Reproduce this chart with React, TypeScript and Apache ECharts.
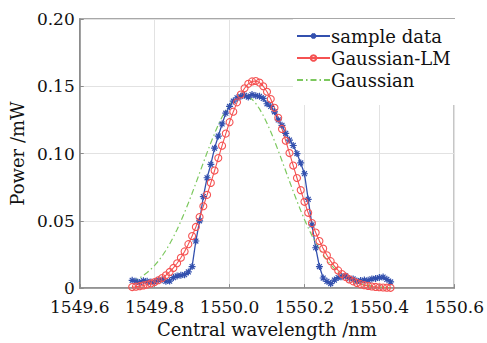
import React, { useEffect, useRef } from "react";
import * as echarts from "echarts";

// wavelength grid (nm), 1549.74 .. 1550.43 step 0.01
const wavelengths: number[] = [
  1549.74, 1549.75, 1549.76, 1549.77, 1549.78, 1549.79, 1549.80, 1549.81, 1549.82, 1549.83,
  1549.84, 1549.85, 1549.86, 1549.87, 1549.88, 1549.89, 1549.90, 1549.91, 1549.92, 1549.93,
  1549.94, 1549.95, 1549.96, 1549.97, 1549.98, 1549.99, 1550.00, 1550.01, 1550.02, 1550.03,
  1550.04, 1550.05, 1550.06, 1550.07, 1550.08, 1550.09, 1550.10, 1550.11, 1550.12, 1550.13,
  1550.14, 1550.15, 1550.16, 1550.17, 1550.18, 1550.19, 1550.20, 1550.21, 1550.22, 1550.23,
  1550.24, 1550.25, 1550.26, 1550.27, 1550.28, 1550.29, 1550.30, 1550.31, 1550.32, 1550.33,
  1550.34, 1550.35, 1550.36, 1550.37, 1550.38, 1550.39, 1550.40, 1550.41, 1550.42, 1550.43,
];

const sampleData: number[] = [
  0.0058, 0.0050, 0.0042, 0.0055, 0.0050, 0.0045, 0.0046, 0.0060, 0.0062, 0.0050,
  0.0052, 0.0078, 0.0090, 0.0095, 0.0100, 0.0120, 0.0160, 0.0350, 0.0500, 0.0680,
  0.0820, 0.0920, 0.1040, 0.1130, 0.1220, 0.1300, 0.1350, 0.1390, 0.1414, 0.1425,
  0.1433, 0.1420, 0.1438, 0.1430, 0.1425, 0.1410, 0.1370, 0.1350, 0.1310, 0.1250,
  0.1210, 0.1150, 0.1100, 0.1060, 0.1000, 0.0930, 0.0850, 0.0660, 0.0470, 0.0300,
  0.0160, 0.0075, 0.0050, 0.0034, 0.0060, 0.0078, 0.0085, 0.0090, 0.0072, 0.0068,
  0.0052, 0.0056, 0.0060, 0.0058, 0.0068, 0.0072, 0.0078, 0.0082, 0.0065, 0.0046,
];

const gaussianLM: number[] = [
  0.00077, 0.00106, 0.00145, 0.00196, 0.00261, 0.00345, 0.00452, 0.00585, 0.00751, 0.00955,
  0.01201, 0.01497, 0.01846, 0.02255, 0.02727, 0.03266, 0.03872, 0.04546, 0.05283, 0.06081,
  0.06930, 0.07820, 0.08737, 0.09665, 0.10587, 0.11483, 0.12332, 0.13112, 0.13804, 0.14391,
  0.14854, 0.15181, 0.15363, 0.15393, 0.15272, 0.15002, 0.14592, 0.14053, 0.13401, 0.12653,
  0.11829, 0.10950, 0.10037, 0.09108, 0.08185, 0.07282, 0.06415, 0.05596, 0.04833, 0.04134,
  0.03500, 0.02934, 0.02436, 0.02002, 0.01630, 0.01314, 0.01048, 0.00828, 0.00648, 0.00502,
  0.00385, 0.00292, 0.00220, 0.00164, 0.00121, 0.00088, 0.00064, 0.00045, 0.00032, 0.00023,
];

const gaussian: number[] = [
  0.00494, 0.00617, 0.00766, 0.00944, 0.01154, 0.01400, 0.01685, 0.02012, 0.02385, 0.02806,
  0.03275, 0.03793, 0.04359, 0.04973, 0.05628, 0.06321, 0.07045, 0.07792, 0.08553, 0.09315,
  0.10067, 0.10797, 0.11491, 0.12137, 0.12720, 0.13228, 0.13653, 0.13982, 0.14210, 0.14330,
  0.14341, 0.14242, 0.14036, 0.13726, 0.13320, 0.12827, 0.12258, 0.11624, 0.10939, 0.10216,
  0.09467, 0.08705, 0.07944, 0.07193, 0.06464, 0.05764, 0.05100, 0.04478, 0.03902, 0.03374,
  0.02895, 0.02465, 0.02083, 0.01747, 0.01453, 0.01200, 0.00983, 0.00799, 0.00645, 0.00516,
  0.00410, 0.00323, 0.00253, 0.00197, 0.00151, 0.00116, 0.00088, 0.00066, 0.00049, 0.00037,
];

const seriesNames: string[] = ["sample data", "Gaussian-LM", "Gaussian"];

const FONT = "'DejaVu Serif', serif";
const BLUE = "#3350ae";
const RED = "#f55252";
const GREEN = "#7cc85e";
const AXIS = "#8c8c8c";

const pairs = (ys: number[]) => wavelengths.map((x, i) => [x, ys[i]]);

const ASTERISK = "path://M5 0L5 10M0 5L10 5M1.5 1.5L8.5 8.5M8.5 1.5L1.5 8.5";

export default function App() {
  const ref = useRef<HTMLDivElement>(null);
  useEffect(() => {
    if (!ref.current) return;
    const chart = echarts.init(ref.current, undefined, { renderer: "svg" });
    chart.setOption({
      animation: false,
      backgroundColor: "#ffffff",
      grid: {
        left: 74,
        right: 30,
        top: 19,
        bottom: 50,
        show: true,
        borderColor: AXIS,
        borderWidth: 1.5,
        backgroundColor: "transparent",
      },
      legend: {
        orient: "vertical",
        left: 293,
        top: 19,
        padding: [8, 10, 16, 3],
        backgroundColor: "#ffffff",
        itemWidth: 33,
        itemHeight: 7,
        itemGap: 4,
        data: [
          { name: seriesNames[0] },
          { name: seriesNames[1] },
          { name: seriesNames[2], itemStyle: { opacity: 0 } },
        ],
        textStyle: { fontFamily: FONT, fontSize: 18, color: "#111", padding: [0, 0, 0, -4] },
      },
      xAxis: {
        type: "value",
        min: 1549.6,
        max: 1550.6,
        interval: 0.2,
        name: "Central wavelength /nm",
        nameLocation: "middle",
        nameGap: 31,
        nameTextStyle: { fontFamily: FONT, fontSize: 18, color: "#111" },
        axisLine: { show: true, onZero: false, lineStyle: { color: AXIS, width: 1.5 } },
        axisTick: { show: true, inside: true, length: 4, lineStyle: { color: AXIS } },
        axisLabel: {
          fontFamily: FONT,
          fontSize: 17,
          color: "#111",
          margin: 10,
          formatter: (v: number) => v.toFixed(1),
        },
        splitLine: { show: true, lineStyle: { color: "#e2e2e2", width: 1 } },
      },
      yAxis: {
        type: "value",
        min: 0,
        max: 0.2,
        interval: 0.05,
        name: "Power /mW",
        nameLocation: "middle",
        nameGap: 47,
        nameTextStyle: { fontFamily: FONT, fontSize: 18, color: "#111" },
        axisLine: { show: true, lineStyle: { color: AXIS, width: 1.5 } },
        axisTick: { show: true, inside: true, length: 4, lineStyle: { color: AXIS } },
        axisLabel: {
          fontFamily: FONT,
          fontSize: 17,
          color: "#111",
          margin: 5,
          formatter: (v: number) => (v === 0 ? "0" : v.toFixed(2)),
        },
        splitLine: { show: true, lineStyle: { color: "#e2e2e2", width: 1 } },
      },
      series: [
        {
          name: seriesNames[0],
          type: "line",
          data: pairs(sampleData),
          symbol: ASTERISK,
          symbolSize: 7,
          showAllSymbol: true,
          color: BLUE,
          lineStyle: { color: BLUE, width: 1.3 },
          itemStyle: { color: BLUE, borderColor: BLUE, borderWidth: 1.2 },
        },
        {
          name: seriesNames[1],
          type: "line",
          data: pairs(gaussianLM),
          symbol: "circle",
          symbolSize: 7,
          showAllSymbol: true,
          color: RED,
          lineStyle: { color: RED, width: 1.1 },
          itemStyle: { color: "rgba(255,255,255,0)", borderColor: RED, borderWidth: 1.1 },
        },
        {
          name: seriesNames[2],
          type: "line",
          data: pairs(gaussian),
          symbol: "none",
          showSymbol: false,
          color: GREEN,
          lineStyle: { color: GREEN, width: 1.2, type: [6, 3, 1.5, 3] },
        },
      ],
    });
    return () => chart.dispose();
  }, []);
  return <div ref={ref} style={{ width: 487, height: 343, position: "absolute", left: 0, top: 0 }} />;
}
